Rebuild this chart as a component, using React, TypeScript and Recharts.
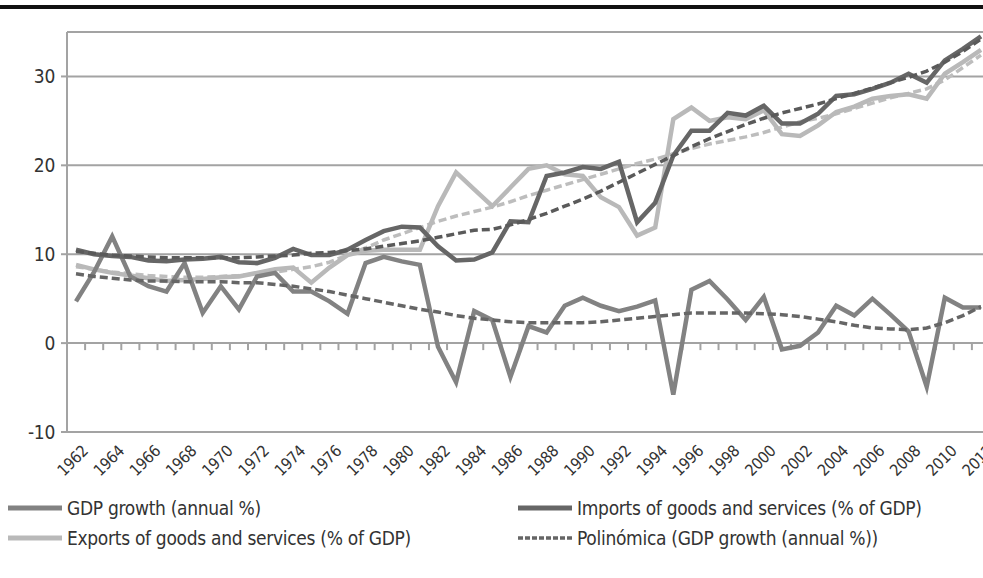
import { LineChart, Line, XAxis, YAxis, CartesianGrid, ReferenceLine } from 'recharts';

const years = [
  '1962', '1963', '1964', '1965', '1966', '1967', '1968', '1969', '1970', '1971',
  '1972', '1973', '1974', '1975', '1976', '1977', '1978', '1979', '1980', '1981',
  '1982', '1983', '1984', '1985', '1986', '1987', '1988', '1989', '1990', '1991',
  '1992', '1993', '1994', '1995', '1996', '1997', '1998', '1999', '2000', '2001',
  '2002', '2003', '2004', '2005', '2006', '2007', '2008', '2009', '2010', '2011', '2012'
];

const gdpGrowth = [
  4.7, 8.0, 12.0, 7.5, 6.4, 5.8, 9.0, 3.4, 6.4, 3.8,
  7.5, 7.9, 5.8, 5.8, 4.7, 3.3, 9.0, 9.7, 9.2, 8.8,
  -0.4, -4.4, 3.6, 2.6, -3.8, 1.9, 1.2, 4.2, 5.1, 4.2,
  3.6, 4.1, 4.8, -5.8, 6.0, 7.0, 4.9, 2.6, 5.2, -0.7,
  -0.3, 1.2, 4.2, 3.1, 5.0, 3.2, 1.3, -4.9, 5.1, 4.0, 4.0
];

const imports = [
  10.5, 10.0, 9.8, 9.7, 9.3, 9.2, 9.4, 9.5, 9.7, 9.1,
  9.0, 9.6, 10.6, 9.9, 9.9, 10.5, 11.6, 12.6, 13.1, 13.0,
  10.9, 9.3, 9.4, 10.2, 13.7, 13.6, 18.8, 19.2, 19.8, 19.6,
  20.4, 13.6, 15.8, 21.1, 23.9, 23.9, 25.9, 25.6, 26.7, 24.7,
  24.7, 25.8, 27.8, 28.0, 28.6, 29.3, 30.3, 29.3, 31.8, 33.1, 34.5
];

const exports = [
  8.8, 8.3, 7.9, 7.6, 7.3, 7.0, 7.1, 7.2, 7.4, 7.5,
  7.9, 8.3, 8.5, 6.8, 8.5, 9.9, 10.4, 10.5, 10.5, 10.5,
  15.4, 19.2, 17.3, 15.4, 17.5, 19.6, 20.0, 19.0, 18.8, 16.4,
  15.3, 12.1, 13.0, 25.2, 26.5, 25.0, 25.4, 25.2, 26.2, 23.5,
  23.3, 24.5, 26.0, 26.6, 27.5, 27.8, 28.0, 27.5, 30.3, 31.6, 33.0
];

// polynomial trend lines (Excel style)
const gdpTrend = [
  7.8, 7.5, 7.3, 7.1, 7.0, 7.0, 6.9, 6.9, 6.9, 6.8,
  6.8, 6.6, 6.4, 6.1, 5.8, 5.4, 5.0, 4.6, 4.2, 3.8,
  3.5, 3.1, 2.8, 2.6, 2.4, 2.3, 2.3, 2.3, 2.3, 2.4,
  2.6, 2.8, 3.0, 3.2, 3.4, 3.4, 3.4, 3.4, 3.3, 3.2,
  3.0, 2.7, 2.4, 2.0, 1.7, 1.6, 1.5, 1.7, 2.3, 3.1, 4.1
];

const importsTrend = [
  10.3, 10.1, 9.9, 9.8, 9.7, 9.6, 9.6, 9.6, 9.6, 9.6,
  9.7, 9.8, 9.9, 10.1, 10.2, 10.4, 10.6, 10.9, 11.2, 11.5,
  11.9, 12.3, 12.7, 12.8, 13.3, 13.9, 14.6, 15.4, 16.2, 17.1,
  18.1, 19.1, 20.1, 21.1, 22.1, 23.0, 23.8, 24.6, 25.3, 25.9,
  26.4, 26.9, 27.5, 28.1, 28.7, 29.3, 29.9, 30.6, 31.6, 32.8, 34.2
];

const exportsTrend = [
  8.6, 8.3, 8.0, 7.8, 7.6, 7.5, 7.4, 7.4, 7.5, 7.6,
  7.8, 8.0, 8.3, 8.6, 9.1, 9.9, 10.7, 11.6, 12.3, 13.0,
  13.7, 14.3, 14.8, 15.3, 15.9, 16.6, 17.2, 17.8, 18.4, 19.0,
  19.6, 20.2, 20.7, 21.3, 21.9, 22.4, 22.8, 23.2, 23.7, 24.3,
  24.9, 25.3, 25.8, 26.4, 27.0, 27.6, 28.1, 28.6, 29.6, 31.0, 32.4
];

const yTicks = [-10, 0, 10, 20, 30];

const data = years.map((year, i) => ({
  year,
  gdp: gdpGrowth[i],
  imports: imports[i],
  exports: exports[i],
  gdpTrend: gdpTrend[i],
  importsTrend: importsTrend[i],
  exportsTrend: exportsTrend[i]
}));

const FONT = "'DejaVu Sans Condensed', 'Liberation Sans Narrow', 'Noto Sans', sans-serif";
const GRID = '#a3a3a3';

const YearTick = ({ x, y, payload }: any) => (
  <g transform={`translate(${x + 13},${y + 12})`}>
    <text transform="rotate(-45)" textAnchor="end" fontSize={16} letterSpacing={-0.3} fill="#333" fontFamily={FONT}>
      {payload.value}
    </text>
  </g>
);

// small tick marks hanging under the zero line, one per category boundary
const ZeroLineTicks = ({ x1, x2, y1 }: any) => {
  const step = (x2 - x1) / years.length;
  return (
    <g>
      {years.map((yr, i) => (
        <line key={yr} x1={x1 + step * (i + 1)} x2={x1 + step * (i + 1)} y1={y1} y2={y1 + 7} stroke={GRID} strokeWidth={2} />
      ))}
    </g>
  );
};

const legendRows = [
  [
    { label: 'GDP growth (annual %)', color: '#828282', dashed: false },
    { label: 'Imports of goods and services (% of GDP)', color: '#666666', dashed: false }
  ],
  [
    { label: 'Exports of goods and services (% of GDP)', color: '#b9b9b9', dashed: false },
    { label: 'Polinómica (GDP growth (annual %))', color: '#666666', dashed: true }
  ]
];

export default function App() {
  return (
    <div style={{ position: 'absolute', left: 0, top: 0, width: 983, height: 578, overflow: 'hidden', background: '#fff' }}>
      <div style={{ position: 'absolute', left: 0, top: 5, width: 983, height: 4, background: '#111' }} />
      <div style={{ position: 'absolute', left: 0, top: 0 }}>
        <LineChart width={1000} height={490} data={data} margin={{ top: 32, right: 10, left: 0, bottom: 8 }}>
          <CartesianGrid horizontal vertical={false} stroke={GRID} strokeWidth={2} />
          <XAxis
            dataKey="year"
            interval={1}
            padding={{ left: 9, right: 9 }}
            axisLine={false}
            tickLine={false}
            height={50}
            tick={<YearTick />}
          />
          <YAxis
            domain={[-10, 35]}
            ticks={yTicks}
            width={67}
            axisLine={{ stroke: GRID, strokeWidth: 2 }}
            tickLine={{ stroke: GRID, strokeWidth: 2 }}
            tickSize={6}
            tickMargin={6}
            tick={{ fontSize: 19, fill: '#333', fontFamily: FONT, letterSpacing: -0.3 }}
          />
          <ReferenceLine y={0} stroke={GRID} shape={<ZeroLineTicks />} />
          <Line dataKey="exportsTrend" stroke="#bdbdbd" strokeWidth={3.5} strokeDasharray="8 4" dot={false} isAnimationActive={false} />
          <Line dataKey="exports" stroke="#b9b9b9" strokeWidth={4.5} dot={false} isAnimationActive={false} />
          <Line dataKey="gdp" stroke="#828282" strokeWidth={4.5} dot={false} isAnimationActive={false} />
          <Line dataKey="gdpTrend" stroke="#666666" strokeWidth={3.5} strokeDasharray="8 4" dot={false} isAnimationActive={false} />
          <Line dataKey="imports" stroke="#666666" strokeWidth={4.5} dot={false} isAnimationActive={false} />
          <Line dataKey="importsTrend" stroke="#5a5a5a" strokeWidth={3.5} strokeDasharray="8 4" dot={false} isAnimationActive={false} />
        </LineChart>
      </div>
      {legendRows.map((row, r) =>
        row.map((item, c) => (
          <div
            key={item.label}
            style={{
              position: 'absolute',
              left: c === 0 ? 8 : 518,
              top: 497 + r * 30,
              display: 'flex',
              alignItems: 'center',
              fontFamily: FONT,
              fontSize: 19,
              color: '#333',
              letterSpacing: -0.3,
              whiteSpace: 'nowrap'
            }}
          >
            <svg width={56} height={8} style={{ marginRight: 3 }}>
              <line
                x1={0}
                x2={54}
                y1={4}
                y2={4}
                stroke={item.color}
                strokeWidth={item.dashed ? 3.5 : 5}
                strokeDasharray={item.dashed ? '5 2' : undefined}
              />
            </svg>
            <span>{item.label}</span>
          </div>
        ))
      )}
    </div>
  );
}
